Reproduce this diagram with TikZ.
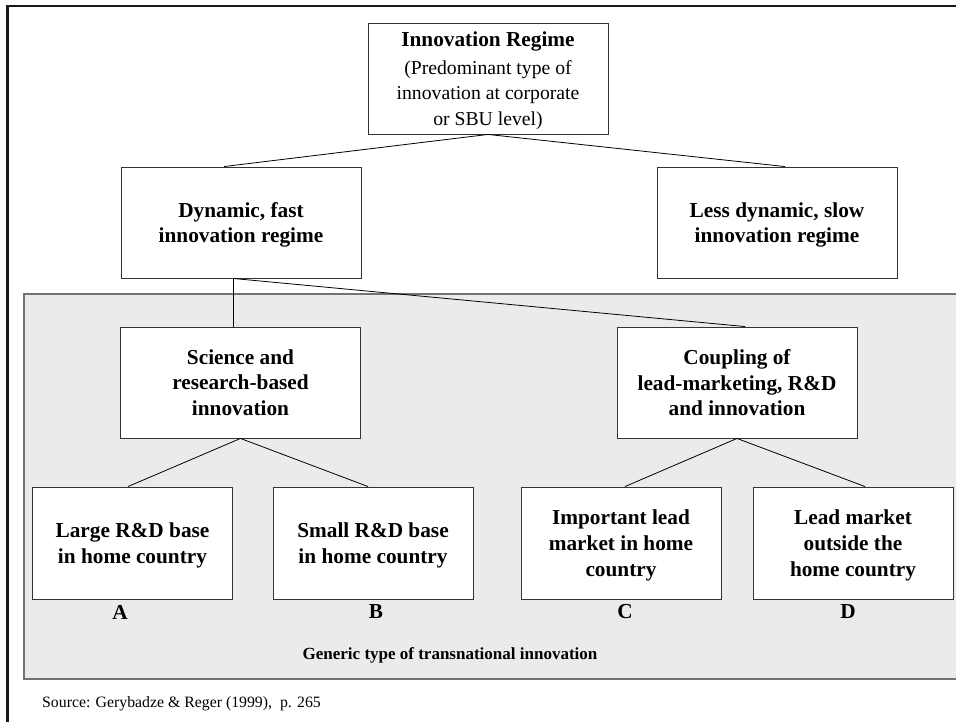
\documentclass[tikz,border=0pt]{standalone}
\usepackage{fontspec}
\setmainfont{Liberation Serif}
\begin{document}
\begin{tikzpicture}[x=1pt,y=-1pt,
  box/.style={draw=black!80,line width=0.9pt,fill=white,minimum width=240pt,minimum height=111pt,
    align=center,inner sep=0pt,text depth=-3.5pt,font=\fontsize{21.3}{25.7}\selectfont\bfseries},
  smallbox/.style={box,minimum width=200pt,minimum height=112pt},
  link/.style={draw=black,line width=0.8pt},
  letter/.style={font=\fontsize{21.3}{24}\selectfont\bfseries}]
\useasboundingbox (0,0) rectangle (956,722);
% outer frame, running past the right and bottom edges
\draw[line width=2.4pt,black!90] (960,6) -- (7.5,6) -- (7.5,730);
% shaded area of the generic innovation types
\draw[fill=black!8,draw=black!55,line width=1.6pt] (24,294) rectangle (965,679);

\node[box] (top) at (488,78.5) {Innovation Regime\\[2pt]
  \fontsize{19.7}{23.3}\selectfont\mdseries (Predominant type of\\
  \fontsize{19.7}{23.3}\selectfont\mdseries innovation at corporate\\
  \fontsize{19.7}{23.3}\selectfont\mdseries or SBU level)};
\node[box] (dyn) at (241,222.5) {Dynamic, fast\\innovation regime};
\node[box] (slow) at (777,222.5) {Less dynamic, slow\\innovation regime};
\node[box] (sci) at (240.5,382.5) {Science and\\research-based\\innovation};
\node[box] (coup) at (737,382.5) {Coupling of\\lead-marketing, R\&D\\and innovation};
\node[smallbox] (a) at (132.5,543) {Large R\&D base\\in home country};
\node[smallbox] (b) at (373,543) {Small R\&D base\\in home country};
\node[smallbox] (c) at (621,543) {Important lead\\market in home\\country};
\node[smallbox] (d) at (853,543) {Lead market\\outside the\\home country};

\node[letter] (la) at (120,612) {A};
\node[letter] (lb) at (376,612) {B};
\node[letter] (lc) at (625,612) {C};
\node[letter] (ld) at (848,612) {D};

\node[font=\fontsize{17}{20}\selectfont\bfseries] (generic) at (450,655) {Generic type of transnational innovation};
\node[anchor=west,font=\fontsize{15.8}{18}\selectfont,inner sep=0pt] (source) at (42,704) {Source: Gerybadze \& Reger (1999),\ \ p. 265};

% tree connectors
\draw[link] (top.south) -- ([xshift=-17pt]dyn.north);
\draw[link] (top.south) -- ([xshift=8pt]slow.north);
\draw[link] ([xshift=-8pt]dyn.south) -- ([xshift=-7.5pt]sci.north);
\draw[link] ([xshift=-8pt]dyn.south) -- ([xshift=8pt]coup.north);
\draw[link] (sci.south) -- ([xshift=-4.5pt]a.north);
\draw[link] (sci.south) -- ([xshift=-5pt]b.north);
\draw[link] (coup.south) -- ([xshift=4pt]c.north);
\draw[link] (coup.south) -- ([xshift=12pt]d.north);
\end{tikzpicture}
\end{document}
